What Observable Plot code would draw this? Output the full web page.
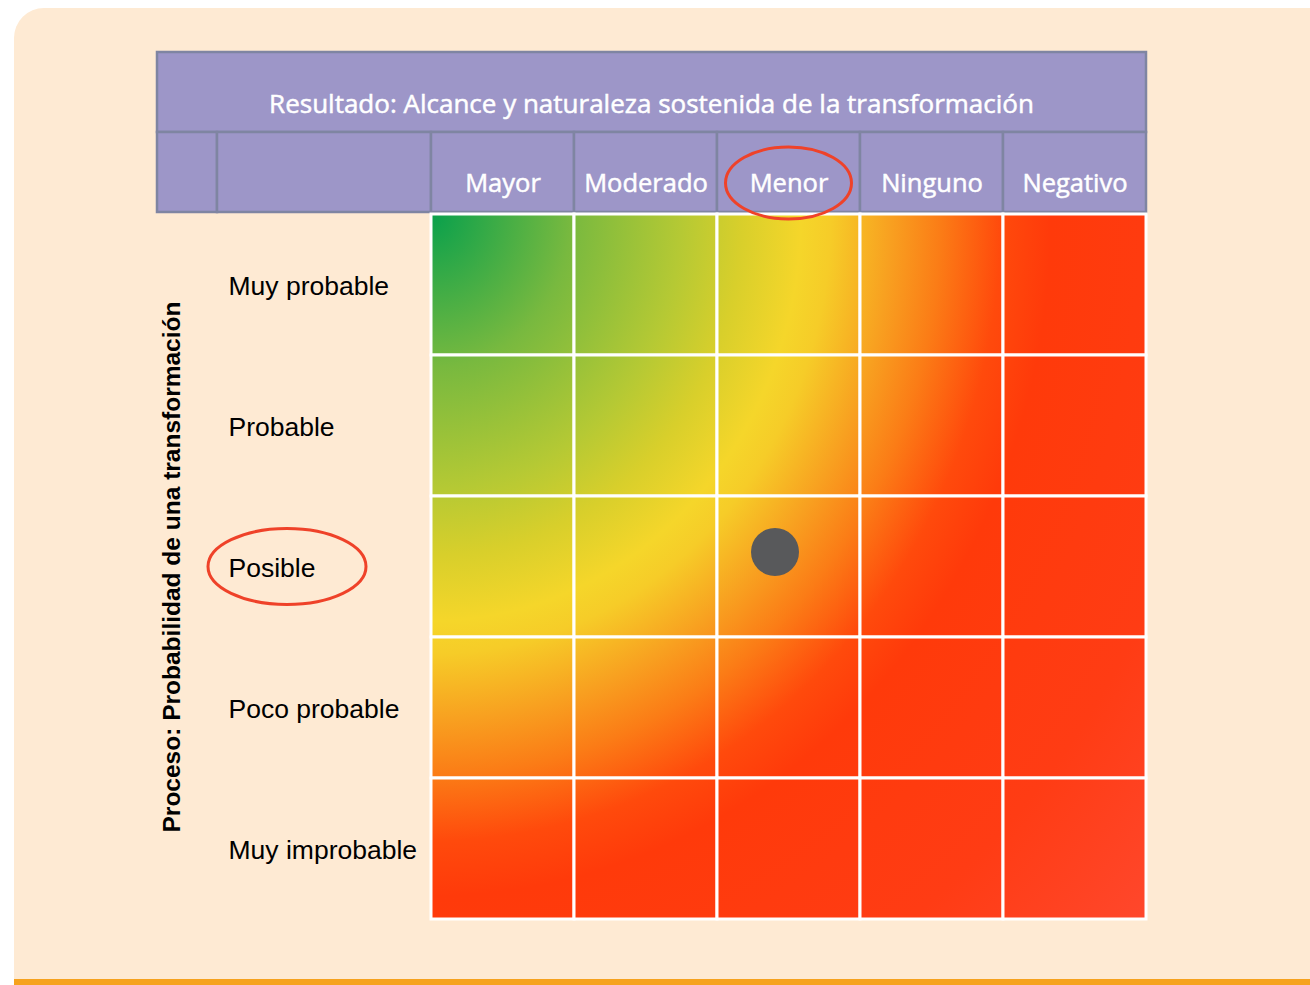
<!DOCTYPE html>
<html><head><meta charset="utf-8">
<script src="https://cdn.jsdelivr.net/npm/d3@7"></script>
<script src="https://cdn.jsdelivr.net/npm/@observablehq/plot@0.6"></script>
<style>
body{margin:0;background:#fff;}
#wrap{position:relative;width:1310px;height:985px;overflow:hidden;}
#card{position:absolute;left:14px;top:8px;width:1340px;height:971px;background:#feead3;border-top-left-radius:30px;}
#bar{position:absolute;left:14px;top:979px;width:1310px;height:6px;background:#f6a21e;}
#chart{position:absolute;left:0;top:0;}
</style></head><body>
<div id="wrap"><div id="card"></div><div id="bar"></div><div id="chart"></div></div>
<script>
const title = "Resultado: Alcance y naturaleza sostenida de la transformación";
const yTitle = "Proceso: Probabilidad de una transformación";
const outcomes = ["Mayor", "Moderado", "Menor", "Ninguno", "Negativo"];
const likelihoods = ["Muy probable", "Probable", "Posible", "Poco probable", "Muy improbable"];
const assessment = [{outcome: "Menor", likelihood: "Posible"}];
const circledOutcome = "Menor";
const circledLikelihood = "Posible";
const cells = likelihoods.flatMap(l => outcomes.map(o => ({outcome: o, likelihood: l})));

const chart = Plot.plot({
  width: 1310, height: 985,
  marginLeft: 430, marginRight: 163, marginTop: 213, marginBottom: 65,
  style: {background: "transparent", overflow: "visible"},
  x: {domain: outcomes, padding: 0},
  y: {domain: likelihoods, padding: 0},
  marks: [
    Plot.cell(cells, {x: "outcome", y: "likelihood", fill: "url(#riskGrad)", stroke: "white", strokeWidth: 3}),
    Plot.axisX({anchor: "top", tickSize: 0, tickPadding: 22, fontSize: 25.5, fontFamily: "Open Sans", fill: "white", label: null}),
    Plot.axisY({anchor: "left", tickSize: 0, tickPadding: 0, textAnchor: "start", dx: -202, dy: 2, fontSize: 26.5, fontFamily: "Liberation Sans", fill: "black", label: null}),
    Plot.text([yTitle], {frameAnchor: "left", textAnchor: "middle", text: d => d, rotate: -90, dx: -258, fontSize: 24.5, fontWeight: "bold", fontFamily: "Liberation Sans", fill: "black"}),
    Plot.dot(assessment, {x: "outcome", y: "likelihood", r: 24, fill: "#58595b", dx: -14, dy: -15})
  ]
});

const svg = d3.select(chart);
const xs = chart.scale("x"), ys = chart.scale("y");
const bw = xs.bandwidth, bh = ys.bandwidth;
const x0 = xs.apply(outcomes[0]), x1 = xs.apply(outcomes[outcomes.length - 1]) + bw;
const y0 = ys.apply(likelihoods[0]);

// slightly heavier column labels
svg.selectAll("g[aria-label='x-axis tick label'] text").attr("stroke", "white").attr("stroke-width", 0.5);

// gradient
const defs = svg.insert("defs", ":first-child");
const grad = defs.append("radialGradient").attr("id", "riskGrad").attr("gradientUnits", "userSpaceOnUse")
  .attr("cx", x0).attr("cy", y0).attr("fx", x0).attr("fy", y0).attr("r", 1000)
  .attr("gradientTransform", `translate(${x0},${y0}) scale(1,1.1) translate(${-x0},${-y0})`);
[[0, "#08a04c"], [0.14, "#78b93f"], [0.25, "#b5c934"], [0.31, "#d8cf2b"], [0.37, "#f5d62a"], [0.40, "#f6cc28"],
 [0.46, "#f8a020"], [0.51, "#fb7c16"], [0.57, "#ff4a0c"], [0.62, "#ff3a0a"], [0.8, "#ff3c14"], [1, "#ff4a32"]]
  .forEach(([o, c]) => grad.append("stop").attr("offset", o).attr("stop-color", c));

// header
const hdr = svg.insert("g", ":first-child");
const hFill = "#9d96c8", hStroke = "#7f85a2";
const left = 157, top1 = 52, top2 = 132, top3 = 212;
hdr.append("rect").attr("x", left).attr("y", top1).attr("width", x1 - left).attr("height", top2 - top1)
  .attr("fill", hFill).attr("stroke", hStroke).attr("stroke-width", 2.5);
[[left, 217], [217, x0]].forEach(([a, b]) => hdr.append("rect").attr("x", a).attr("y", top2).attr("width", b - a).attr("height", top3 - top2)
  .attr("fill", hFill).attr("stroke", hStroke).attr("stroke-width", 2.5));
outcomes.forEach(o => hdr.append("rect").attr("x", xs.apply(o)).attr("y", top2).attr("width", bw).attr("height", top3 - top2)
  .attr("fill", hFill).attr("stroke", hStroke).attr("stroke-width", 2.5));
hdr.append("text").attr("x", (left + x1) / 2).attr("y", 103).attr("text-anchor", "middle").attr("dominant-baseline", "central")
  .attr("font-family", "Open Sans").attr("font-size", 26).attr("fill", "white")
  .attr("stroke", "white").attr("stroke-width", 0.5).text(title);

// highlight ellipses
const ann = svg.append("g").attr("fill", "none").attr("stroke", "#ef4229").attr("stroke-width", 3);
ann.append("ellipse").attr("cx", xs.apply(circledOutcome) + bw / 2).attr("cy", 183).attr("rx", 63).attr("ry", 36);
ann.append("ellipse").attr("cx", 287).attr("cy", ys.apply(circledLikelihood) + bh / 2).attr("rx", 79).attr("ry", 38);

document.getElementById("chart").appendChild(chart);
</script>
</body></html>
